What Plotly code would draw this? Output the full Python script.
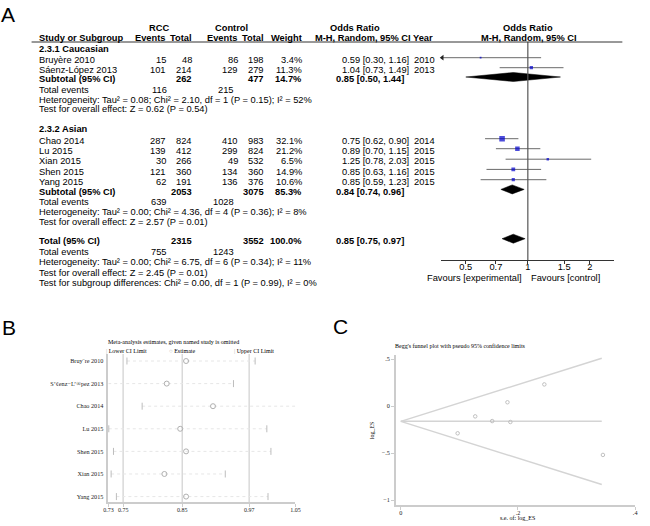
import plotly.graph_objects as go

W, H = 650, 526
SANS = "Liberation Sans, Arial, sans-serif"
SERIF = "Liberation Serif, Times New Roman, serif"
FS = 9.3

# ---------------- Panel A data (forest plot) ----------------
studies = ["Bruyère 2010", "Sáenz-López 2013", "Chao 2014", "Lu 2015", "Xian 2015", "Shen 2015", "Yang 2015"]
rcc_events = [15, 101, 287, 139, 30, 121, 62]
rcc_total = [48, 214, 824, 412, 266, 360, 191]
ctl_events = [86, 129, 410, 299, 49, 134, 136]
ctl_total = [198, 279, 983, 824, 532, 360, 376]
weights = [3.4, 11.3, 32.1, 21.2, 6.5, 14.9, 10.6]
or_est = [0.59, 1.04, 0.75, 0.89, 1.25, 0.85, 0.85]
or_lo = [0.30, 0.73, 0.62, 0.70, 0.78, 0.63, 0.59]
or_hi = [1.16, 1.49, 0.90, 1.15, 2.03, 1.16, 1.23]
years = [2010, 2013, 2014, 2015, 2015, 2015, 2015]

group_titles = ["2.3.1 Caucasian", "2.3.2 Asian"]
pooled_labels = ["Subtotal (95% CI)", "Subtotal (95% CI)", "Total (95% CI)"]
pooled_rcc_total = [262, 2053, 2315]
pooled_ctl_total = [477, 3075, 3552]
pooled_weight = [14.7, 85.3, 100.0]
pooled_or = [0.85, 0.84, 0.85]
pooled_lo = [0.50, 0.74, 0.75]
pooled_hi = [1.44, 0.96, 0.97]
total_events_rcc = [116, 639, 755]
total_events_ctl = [215, 1028, 1243]
heterogeneity = [
    "Heterogeneity: Tau² = 0.08; Chi² = 2.10, df = 1 (P = 0.15); I² = 52%",
    "Heterogeneity: Tau² = 0.00; Chi² = 4.36, df = 4 (P = 0.36); I² = 8%",
    "Heterogeneity: Tau² = 0.00; Chi² = 6.75, df = 6 (P = 0.34); I² = 11%",
]
overall_effect = [
    "Test for overall effect: Z = 0.62 (P = 0.54)",
    "Test for overall effect: Z = 2.57 (P = 0.01)",
    "Test for overall effect: Z = 2.45 (P = 0.01)",
]
subgroup_test = "Test for subgroup differences: Chi² = 0.00, df = 1 (P = 0.99), I² = 0%"
forest_ticks = [0.5, 0.7, 1, 1.5, 2]
forest_ticktext = ["0.5", "0.7", "1", "1.5", "2"]

# ---------------- Panel B data (sensitivity analysis) ----------------
omitted_labels = ["Bruy¨re 2010", "S’¢enz−L’®pez 2013", "Chao 2014", "Lu 2015", "Shen 2015", "Xian 2015", "Yang 2015"]
omit_est = [0.861, 0.828, 0.907, 0.851, 0.861, 0.824, 0.861]
omit_lo = [0.760, 0.728, 0.786, 0.729, 0.737, 0.733, 0.742]
omit_hi = [0.979, 0.942, 1.048, 0.999, 1.006, 0.928, 1.001]
sens_ref = [0.7535, 0.8545, 0.9688]
sens_ticks = [0.7283, 0.7535, 0.8545, 0.9688, 1.0479]
sens_ticktext = ["0.73", "0.75", "0.85", "0.97", "1.05"]

# ---------------- Panel C data (Begg's funnel) ----------------
se_log_es = [0.345, 0.182, 0.097, 0.127, 0.245, 0.156, 0.187]
log_es = [-0.52, 0.04, -0.29, -0.11, 0.23, -0.16, -0.17]
funnel_se = [0.0, 0.343]
funnel_mid = [-0.163, -0.163]
funnel_up = [-0.163, 0.509]
funnel_low = [-0.163, -0.835]
c_xticks = [0, 0.2, 0.4]
c_xticktext = ["0", ".2", ".4"]
c_yticks = [0.5, 0, -0.5, -1]
c_yticktext = [".5", "0", "−.5", "−1"]

# ---------------- layout helpers ----------------
ann = []
shapes = []
LPAD = 1.5  # annotation boxes add a little padding on the left


def txt(x, y, s, anchor="left", bold=False, size=FS, family=SANS, color="black", angle=0):
    if anchor == "left":
        x -= LPAD
    ann.append(dict(x=x / W, y=1 - y / H, xref="paper", yref="paper",
                    text=f"<b>{s}</b>" if bold else s, showarrow=False,
                    xanchor=anchor, yanchor="middle", borderpad=0, textangle=angle,
                    font=dict(family=family, size=size, color=color)))


fig = go.Figure()

# ---- Panel A text table
TXT_DY = 2.3  # text centre sits slightly below marker centre
col_name, col_re, col_rt, col_ce, col_ct, col_w = 35, 165, 191, 238, 264, 303
col_ci_r, col_ci_bold, col_year = 411, 337, 416

txt(-4, 15, "A", size=21)
txt(156, 28, "RCC", "center", True)
txt(230, 28, "Control", "center", True)
txt(355, 28, "Odds Ratio", "center", True)
txt(531, 28, "Odds Ratio", "center", True)
txt(col_name, 38.5, "Study or Subgroup", "left", True)
txt(col_re, 38.5, "Events", "right", True)
txt(col_rt, 38.5, "Total", "right", True)
txt(col_ce, 38.5, "Events", "right", True)
txt(col_ct, 38.5, "Total", "right", True)
txt(col_w, 38.5, "Weight", "right", True)
txt(436, 38.5, "M-H, Random, 95% CI Year", "right", True)
txt(532, 38.5, "M-H, Random, 95% CI", "center", True)
shapes.append(dict(type="line", xref="paper", yref="paper", x0=27 / W, x1=627 / W,
                   y0=1 - 42 / H, y1=1 - 42 / H, line=dict(color="#333", width=1)))

group_title_y = [48.5, 128.5]
study_text_y = [60, 70, 141, 151, 161.5, 171.7, 182]
pooled_text_y = [79.3, 191.7, 241]
te_y = [90, 202, 252]
het_y = [99.5, 212, 262]
oe_y = [109.5, 222, 272.5]
subgroup_y = 283

for g in range(2):
    txt(col_name, group_title_y[g], group_titles[g], "left", True)
for i, s in enumerate(studies):
    y = study_text_y[i]
    txt(col_name, y, s)
    txt(col_re, y, str(rcc_events[i]), "right")
    txt(col_rt, y, str(rcc_total[i]), "right")
    txt(col_ce, y, str(ctl_events[i]), "right")
    txt(col_ct, y, str(ctl_total[i]), "right")
    txt(col_w, y, f"{weights[i]:.1f}%", "right")
    txt(col_ci_r, y, f"{or_est[i]:.2f} [{or_lo[i]:.2f}, {or_hi[i]:.2f}]", "right")
    txt(col_year, y, str(years[i]))
for k in range(3):
    y = pooled_text_y[k]
    txt(col_name, y, pooled_labels[k], "left", True)
    txt(col_rt, y, str(pooled_rcc_total[k]), "right", True)
    txt(col_ct, y, str(pooled_ctl_total[k]), "right", True)
    txt(col_w, y, f"{pooled_weight[k]:.1f}%", "right", True)
    txt(col_ci_bold, y, f"{pooled_or[k]:.2f} [{pooled_lo[k]:.2f}, {pooled_hi[k]:.2f}]", "left", True)
    txt(col_name, te_y[k], "Total events")
    txt(col_re + 1, te_y[k], str(total_events_rcc[k]), "right")
    txt(col_ct - 30, te_y[k], str(total_events_ctl[k]), "right")
    txt(col_name, het_y[k], heterogeneity[k])
    txt(col_name, oe_y[k], overall_effect[k])
txt(col_name, subgroup_y, subgroup_test)
txt(526, 278, "Favours [experimental]", "right")
txt(535, 278, "Favours [control]", "left")

# ---- Panel A graphics (x2 / y2)
fx0, fx1 = 443, 619
log_half = 0.4205
xmin = 10 ** (-log_half)
for i in range(len(studies)):
    y = study_text_y[i] - TXT_DY
    fig.add_trace(go.Scatter(x=[or_lo[i], or_hi[i]], y=[y, y], mode="lines",
                             line=dict(color="#6a6a6a", width=1), xaxis="x2", yaxis="y2",
                             hoverinfo="skip"))
    if or_lo[i] < xmin:
        fig.add_trace(go.Scatter(x=[xmin * 1.012], y=[y], mode="markers",
                                 marker=dict(symbol="triangle-left", size=5, color="#222"),
                                 xaxis="x2", yaxis="y2", cliponaxis=False, hoverinfo="skip"))
fig.add_trace(go.Scatter(x=or_est, y=[v - TXT_DY for v in study_text_y], mode="markers",
                         marker=dict(symbol="square", size=[0.98 * w ** 0.5 for w in weights],
                                     color="#0000CC", line=dict(width=0)),
                         xaxis="x2", yaxis="y2"))
for k in range(3):
    y = pooled_text_y[k] - TXT_DY
    h = 4.5
    fig.add_trace(go.Scatter(x=[pooled_lo[k], pooled_or[k], pooled_hi[k], pooled_or[k], pooled_lo[k]],
                             y=[y, y - h, y, y + h, y], mode="lines", fill="toself",
                             fillcolor="black", line=dict(color="black", width=0.5),
                             xaxis="x2", yaxis="y2", hoverinfo="skip"))
fig.add_trace(go.Scatter(x=[1, 1], y=[42, 260], mode="lines", line=dict(color="#555", width=1.2),
                         xaxis="x2", yaxis="y2", hoverinfo="skip"))

# ---- Panel B
txt(-3, 327, "B", size=21)
txt(105, 342, "Meta-analysis estimates, given named study is omitted", size=6, family=SERIF)
txt(103, 350.5, "<span style='color:#aaa'>|</span> Lower CI Limit", size=6, family=SERIF)
txt(167, 350.5, "<span style='color:#aaa'>○</span> Estimate", size=6, family=SERIF)
txt(233, 350.5, "<span style='color:#aaa'>|</span> Upper CI Limit", size=6, family=SERIF)
rows_b = list(range(len(omitted_labels)))
for v in sens_ref:
    fig.add_trace(go.Scatter(x=[v, v], y=[6.24, -0.31], mode="lines",
                             line=dict(color="#d9d9d9", width=1.5), xaxis="x3", yaxis="y3",
                             hoverinfo="skip"))
for i in rows_b:
    fig.add_trace(go.Scatter(x=[omit_lo[i], omit_hi[i]], y=[i, i], mode="lines",
                             line=dict(color="#e6e6e6", width=1, dash="dot"), xaxis="x3", yaxis="y3",
                             hoverinfo="skip"))
fig.add_trace(go.Scatter(x=omit_lo + omit_hi, y=rows_b + rows_b, mode="markers",
                         marker=dict(symbol="line-ns-open", size=5, color="#bdbdbd",
                                     line=dict(color="#bdbdbd", width=1)),
                         xaxis="x3", yaxis="y3", cliponaxis=False))
fig.add_trace(go.Scatter(x=omit_est, y=rows_b, mode="markers",
                         marker=dict(symbol="circle-open", size=5, color="#b0b0b0", line=dict(width=1)),
                         xaxis="x3", yaxis="y3"))

# ---- Panel C
txt(334, 326, "C", size=21)
txt(397, 346, "Begg's funnel plot with pseudo 95% confidence limits", size=6, family=SERIF)
txt(521, 518, "s.e. of: log_ES", "center", size=6, family=SERIF)
txt(373, 430, "log_ES", "center", size=6, family=SERIF, angle=-90)
for ys in (funnel_up, funnel_mid, funnel_low):
    fig.add_trace(go.Scatter(x=funnel_se, y=ys, mode="lines", line=dict(color="#d4d4d4", width=1.5),
                             xaxis="x4", yaxis="y4", hoverinfo="skip"))
fig.add_trace(go.Scatter(x=se_log_es, y=log_es, mode="markers",
                         marker=dict(symbol="circle-open", size=3.5, color="#c0c0c0", line=dict(width=1)),
                         xaxis="x4", yaxis="y4"))

axis_off = dict(visible=False, showgrid=False, zeroline=False)
fig.update_layout(
    width=W, height=H, autosize=False, margin=dict(l=0, r=0, t=0, b=0),
    paper_bgcolor="white", plot_bgcolor="rgba(0,0,0,0)", showlegend=False,
    annotations=ann, shapes=shapes,
    xaxis2=dict(type="log", domain=[fx0 / W, fx1 / W], range=[-log_half, log_half],
                anchor="free", position=1 - 260 / H, showline=True, linecolor="#333", linewidth=1,
                ticks="outside", ticklen=3, tickcolor="#333", tickvals=forest_ticks,
                ticktext=forest_ticktext, tickfont=dict(family=SANS, size=FS, color="black"),
                ticklabelstandoff=-5, showgrid=False, zeroline=False),
    yaxis2=dict(domain=[0, 1], range=[H, 0], anchor="x2", **axis_off),
    xaxis3=dict(domain=[105 / W, 295 / W], range=[sens_ticks[0], sens_ticks[-1]], anchor="y3",
                showline=True, linecolor="#cccccc", linewidth=1.5, ticks="outside", ticklen=3,
                tickcolor="#cccccc", tickvals=sens_ticks, ticktext=sens_ticktext,
                tickfont=dict(family=SERIF, size=6, color="#222"), ticklabelstandoff=-2,
                showgrid=False, zeroline=False),
    yaxis3=dict(domain=[1 - 502 / H, 1 - 354 / H], range=[6.24, -0.31], anchor="x3",
                showline=True, linecolor="#cccccc", linewidth=1.5, ticks="",
                tickvals=rows_b, ticktext=omitted_labels, ticklabelstandoff=2,
                tickfont=dict(family=SERIF, size=6.2, color="#222"), showgrid=False, zeroline=False),
    xaxis4=dict(domain=[397 / W, 640 / W], range=[-0.0084, 0.4], anchor="y4",
                showline=True, linecolor="#cccccc", linewidth=1.5, ticks="outside", ticklen=3,
                tickcolor="#cccccc", tickvals=c_xticks, ticktext=c_xticktext, ticklabelstandoff=-2,
                tickfont=dict(family=SERIF, size=6.2, color="#222"), showgrid=False, zeroline=False),
    yaxis4=dict(domain=[1 - 505 / H, 1 - 355 / H], range=[-1.053, 0.543], anchor="x4",
                showline=True, linecolor="#cccccc", linewidth=1.5, ticks="outside", ticklen=3,
                tickcolor="#cccccc", tickvals=c_yticks, ticktext=c_yticktext,
                tickfont=dict(family=SERIF, size=6.2, color="#222"), showgrid=False, zeroline=False),
)

fig.write_html("out.html", config={"displayModeBar": False},
               post_script="document.body.style.margin='0';")
